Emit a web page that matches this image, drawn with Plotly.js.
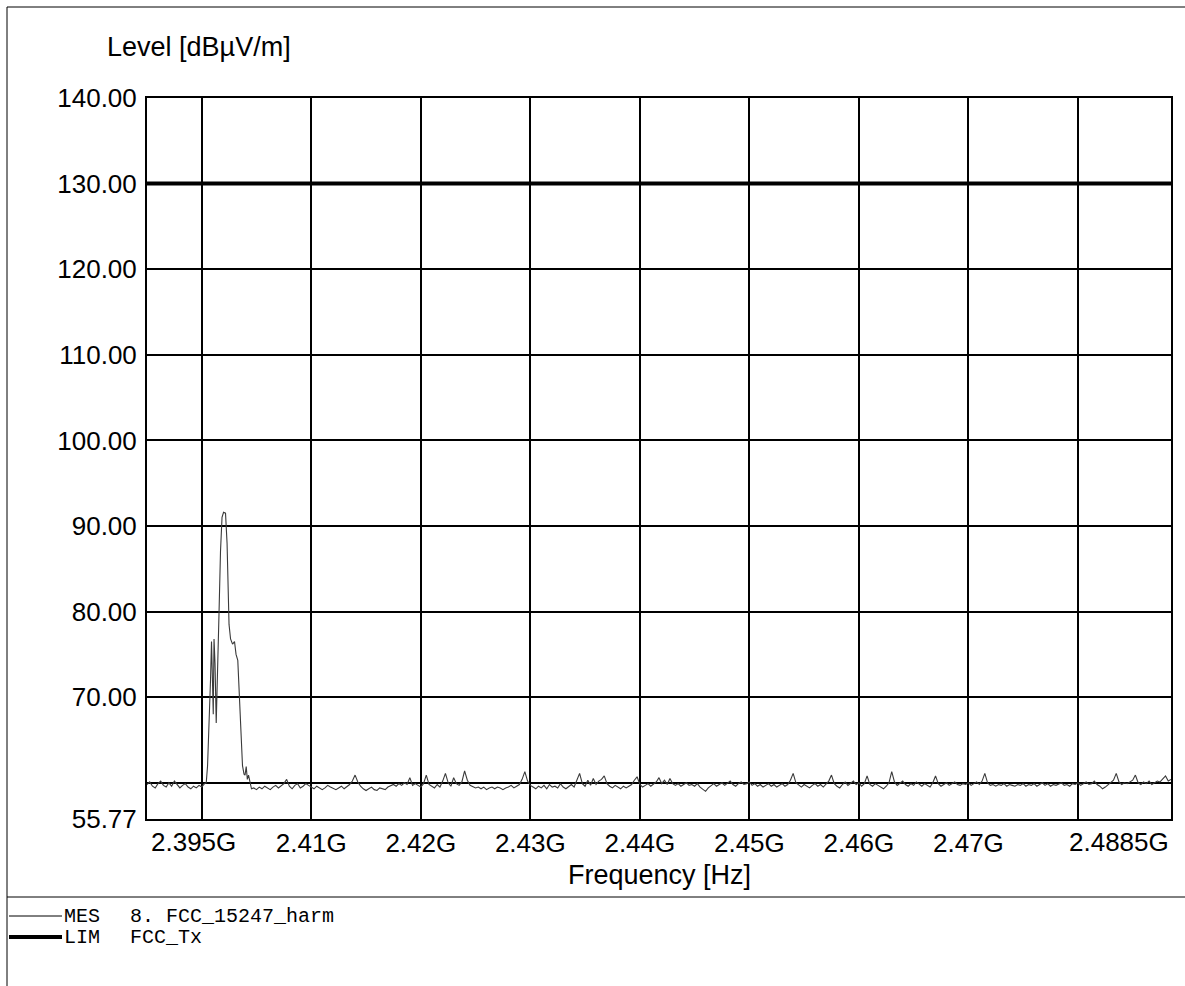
<!DOCTYPE html>
<html>
<head>
<meta charset="utf-8">
<script src="https://cdn.plot.ly/plotly-3.0.1.min.js"></script>
<style>html,body{margin:0;padding:0;background:#fff;}#chart{width:1185px;height:986px;}</style>
</head>
<body>
<div id="chart"></div>
<script>
// ---------------- data ----------------
const sweepStepMHz = 0.25;
const leftStartMHz = 2395.0;
const leftLevels = [59.8, 60.1, 59.6, 59.4, 59.9, 60.2, 59.7, 59.5, 60.0, 59.6, 60.2,
                    59.8, 59.4, 59.7, 59.9, 59.5, 59.3, 59.6, 59.4, 59.7, 59.5, 59.9];

const peakFreqMHz = [2400.41, 2400.53, 2400.66, 2400.80, 2400.89, 2400.98, 2401.05, 2401.12,
                     2401.21, 2401.32, 2401.44, 2401.58, 2401.71, 2401.85, 2401.99, 2402.17,
                     2402.31, 2402.40, 2402.49, 2402.63, 2402.81, 2402.99, 2403.13, 2403.29,
                     2403.40, 2403.49, 2403.60, 2403.72, 2403.86, 2403.95, 2404.06, 2404.16,
                     2404.27, 2404.41, 2404.54];
const peakLevels = [60.0, 62.0, 66.0, 72.0, 76.5, 70.0, 68.0, 76.8,
                    74.0, 67.0, 72.0, 80.0, 87.0, 91.0, 91.6, 91.5,
                    88.0, 83.0, 78.5, 76.8, 76.2, 76.5, 75.0, 74.3,
                    71.0, 68.0, 64.6, 62.0, 61.0, 60.9, 61.9, 60.4,
                    60.9, 59.8, 59.3];

const rightStartMHz = 2404.75;
const rightLevels = [
  59.4, 59.2, 59.5, 59.3, 59.6, 59.4, 59.2, 59.5, 59.7, 59.4, 59.6, 59.9, 60.4, 59.6, 59.3, 59.7, 59.9, 59.4, 59.6, 59.9,
  59.7, 59.5, 59.3, 59.6, 59.4, 59.2, 59.4, 59.7, 59.5, 59.3, 59.2, 59.4, 59.6, 59.3, 59.5, 59.8, 60.2, 60.9, 60.1, 59.6,
  59.3, 59.1, 59.3, 59.5, 59.2, 59.1, 59.4, 59.3, 59.2, 59.5, 59.7, 59.8, 59.6, 59.9, 59.7, 60.0, 59.8, 60.6, 59.7, 59.9,
  59.7, 59.5, 59.9, 60.9, 59.8, 59.6, 59.4, 59.8, 59.5, 60.2, 61.1, 60.0, 59.6, 60.6, 59.9, 59.7, 60.1, 61.4, 60.3, 59.7,
  59.5, 59.4, 59.5, 59.3, 59.5, 59.2, 59.4, 59.5, 59.3, 59.5, 59.4, 59.2, 59.4, 59.5, 59.7, 59.4, 59.6, 59.8, 60.4, 61.3,
  60.2, 59.7, 59.5, 59.3, 59.6, 59.4, 59.7, 59.3, 59.8, 59.5, 59.6, 59.4, 59.9, 59.5, 59.3, 59.6, 59.8, 59.5, 60.2, 61.1,
  59.9, 59.6, 60.3, 59.7, 60.5, 59.8, 60.2, 60.4, 60.8, 59.9, 59.6, 59.4, 59.7, 59.5, 59.3, 59.6, 59.4, 59.6, 59.8, 60.3,
  60.7, 59.8, 59.5, 59.7, 59.9, 59.6, 59.8, 60.1, 60.6, 59.9, 60.3, 59.8, 60.5, 59.9, 59.7, 59.9, 59.6, 59.8, 60.0, 59.7,
  59.8, 59.6, 59.9, 59.5, 59.3, 59.0, 59.4, 59.7, 59.9, 59.6, 59.8, 60.0, 59.7, 59.9, 60.2, 59.8, 59.6, 59.9, 60.1, 59.8,
  59.9, 60.1, 59.7, 59.9, 59.6, 59.8, 59.5, 59.7, 59.9, 59.6, 59.8, 59.5, 59.7, 59.9, 59.6, 59.8, 60.3, 61.1, 60.0, 59.7,
  59.5, 59.8, 59.6, 59.4, 59.7, 59.9, 59.6, 59.8, 59.5, 59.9, 60.2, 60.9, 59.9, 59.6, 59.4, 59.8, 60.1, 59.7, 59.9, 60.2,
  59.8, 60.0, 59.6, 59.9, 60.8, 59.8, 59.6, 59.9, 59.7, 59.5, 59.3, 59.6, 60.0, 61.3, 60.1, 59.7, 59.9, 60.2, 59.8, 59.6,
  59.9, 59.7, 60.1, 59.8, 59.6, 59.9, 59.7, 59.5, 60.0, 60.8, 59.9, 59.6, 59.8, 60.0, 59.7, 59.9, 60.1, 59.8, 59.7, 59.9,
  59.8, 60.0, 59.7, 59.9, 60.1, 59.8, 60.2, 61.1, 60.0, 59.7, 59.8, 59.6, 59.8, 59.7, 59.9, 59.6, 59.8, 59.7, 59.6, 59.8,
  59.7, 59.9, 59.6, 59.8, 59.7, 59.9, 59.6, 59.8, 60.0, 59.7, 59.9, 59.6, 59.8, 59.7, 59.9, 60.0, 59.7, 59.8, 59.6, 59.9,
  59.8, 60.0, 59.7, 59.9, 60.1, 59.8, 59.9, 60.2, 59.8, 59.6, 59.3, 59.5, 59.8, 60.0, 60.3, 61.1, 60.1, 59.8, 60.0, 59.9,
  60.1, 60.3, 60.9, 60.0, 59.8, 60.1, 59.9, 60.2, 59.8, 60.0, 60.2, 60.1, 60.4, 60.8, 60.2, 60.4
];

const limitFreqMHz = [2395.0, 2488.5];
const limitLevels = [130, 130];

const xRangeMHz = [2395.0, 2488.5];
const xGridMHz = [2400, 2410, 2420, 2430, 2440, 2450, 2460, 2470, 2480];
const xGridText = ['', '2.41G', '2.42G', '2.43G', '2.44G', '2.45G', '2.46G', '2.47G', ''];
const xStartLabel = '2.395G';
const xEndLabel = '2.4885G';

const yRange = [55.77, 140];
const yTickVals = [55.77, 60, 70, 80, 90, 100, 110, 120, 130, 140];
const yTickText = ['55.77', '', '70.00', '80.00', '90.00', '100.00', '110.00', '120.00', '130.00', '140.00'];

const yTitle = 'Level [dBµV/m]';
const xTitle = 'Frequency [Hz]';
const legendRows = [
  {tag: 'MES', text: '8. FCC_15247_harm', width: 1},
  {tag: 'LIM', text: 'FCC_Tx', width: 4}
];

// ------------- build -------------
const toHz = a => a.map(v => v * 1e6);
const mesFreqMHz = [];
const mesLevels = [];
leftLevels.forEach((v, i) => { mesFreqMHz.push(leftStartMHz + i * sweepStepMHz); mesLevels.push(v); });
peakLevels.forEach((v, i) => { mesFreqMHz.push(peakFreqMHz[i]); mesLevels.push(v); });
rightLevels.forEach((v, i) => { mesFreqMHz.push(rightStartMHz + i * sweepStepMHz); mesLevels.push(v); });

const W = 1185, H = 986;
const L = 147, R = 1171, T = 98, B = 819;
const pw = R - L, ph = B - T;
const px = x => (x - L) / pw;
const py = y => (B - y) / ph;

const SANS = 'Liberation Sans, Arial, sans-serif';
const MONO = 'Liberation Mono, Courier New, monospace';
const TICK = 26, TITLE = 27, LEG = 20;

const traces = [
  {
    x: toHz(limitFreqMHz), y: limitLevels, name: 'LIM FCC_Tx',
    mode: 'lines', line: {color: '#000', width: 4}, showlegend: false, hoverinfo: 'skip'
  },
  {
    x: toHz(mesFreqMHz), y: mesLevels, name: 'MES 8. FCC_15247_harm',
    mode: 'lines', line: {color: '#3a3a3a', width: 1.1}, showlegend: false, hoverinfo: 'skip'
  }
];

const annotations = [
  {xref: 'paper', yref: 'paper', x: px(105), y: py(47), xanchor: 'left', yanchor: 'middle',
   text: yTitle, showarrow: false, font: {family: SANS, size: TITLE, color: '#000'}},
  {xref: 'paper', yref: 'paper', x: px(659), y: py(875), xanchor: 'center', yanchor: 'middle',
   text: xTitle, showarrow: false, font: {family: SANS, size: TITLE, color: '#000'}},
  {xref: 'paper', yref: 'paper', x: px(149), y: py(842), xanchor: 'left', yanchor: 'middle',
   text: xStartLabel, showarrow: false, font: {family: SANS, size: TICK, color: '#000'}},
  {xref: 'paper', yref: 'paper', x: px(1171), y: py(842), xanchor: 'right', yanchor: 'middle',
   text: xEndLabel, showarrow: false, font: {family: SANS, size: TICK, color: '#000'}}
];
const shapes = [
  {type: 'rect', xref: 'paper', yref: 'paper', x0: px(7), x1: px(1200), y0: py(7), y1: py(1000),
   line: {color: '#000', width: 1}, layer: 'below'},
  {type: 'line', xref: 'paper', yref: 'paper', x0: px(7), x1: px(1190), y0: py(897), y1: py(897),
   line: {color: '#000', width: 1}}
];
const rowY = [916, 937];
legendRows.forEach((r, i) => {
  shapes.push({type: 'line', xref: 'paper', yref: 'paper', x0: px(9), x1: px(62), y0: py(rowY[i]), y1: py(rowY[i]),
               line: {color: '#000', width: r.width}});
  annotations.push({xref: 'paper', yref: 'paper', x: px(62), y: py(rowY[i]), xanchor: 'left', yanchor: 'middle',
                    text: r.tag, showarrow: false, font: {family: MONO, size: LEG, color: '#000'}});
  annotations.push({xref: 'paper', yref: 'paper', x: px(128), y: py(rowY[i]), xanchor: 'left', yanchor: 'middle',
                    text: r.text, showarrow: false, font: {family: MONO, size: LEG, color: '#000'}});
});

const layout = {
  width: W, height: H,
  margin: {l: L, r: W - R, t: T, b: H - B, pad: 0},
  paper_bgcolor: '#fff', plot_bgcolor: '#fff',
  showlegend: false,
  xaxis: {
    range: toHz(xRangeMHz), tickmode: 'array', tickvals: toHz(xGridMHz), ticktext: xGridText,
    showgrid: true, gridcolor: '#000', gridwidth: 2, zeroline: false,
    showline: true, mirror: true, linecolor: '#000', linewidth: 2,
    ticks: '', ticklabelstandoff: 0,
    tickfont: {family: SANS, size: TICK, color: '#000'}, fixedrange: true
  },
  yaxis: {
    range: yRange, tickmode: 'array', tickvals: yTickVals, ticktext: yTickText,
    showgrid: true, gridcolor: '#000', gridwidth: 2, zeroline: false,
    showline: true, mirror: true, linecolor: '#000', linewidth: 2,
    ticks: '', ticklabelstandoff: 3,
    tickfont: {family: SANS, size: TICK, color: '#000'}, fixedrange: true
  },
  annotations: annotations,
  shapes: shapes
};

Plotly.newPlot('chart', traces, layout, {staticPlot: true, displayModeBar: false});
</script>
</body>
</html>
